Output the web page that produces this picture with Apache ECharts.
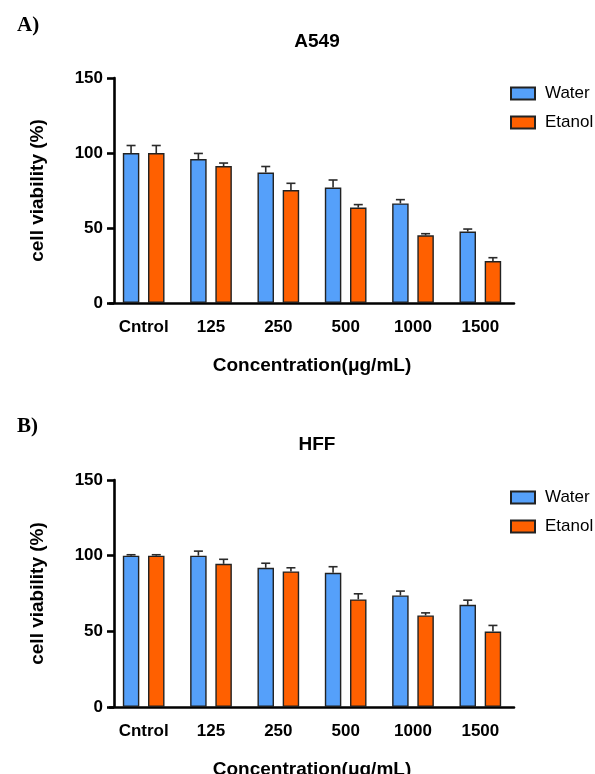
<!DOCTYPE html>
<html>
<head>
<meta charset="utf-8">
<script src="https://cdn.jsdelivr.net/npm/echarts@6/dist/echarts.min.js"></script>
<style>
html,body{margin:0;padding:0;background:#fff;}
#chart{width:595px;height:774px;}
</style>
</head>
<body>
<div id="chart"></div>
<script>
// ---- data ----
const categories = ['Cntrol', '125', '250', '500', '1000', '1500'];
const yTicks = [0, 50, 100, 150];
const seriesNames = ['Water', 'Etanol'];

// Panel A: A549
const a549Water = [100, 96, 87, 77, 66.4, 47.6];
const a549WaterSD = [5, 3.7, 4, 5, 2.5, 1.7];
const a549Etanol = [100, 91.3, 75.3, 63.6, 45.1, 28];
const a549EtanolSD = [5, 2, 4.5, 2, 1.1, 2.2];

// Panel B: HFF
const hffWater = [100, 100, 92, 88.7, 73.7, 67.5];
const hffWaterSD = [0.6, 3, 3, 4, 2.9, 3.1];
const hffEtanol = [100, 94.6, 89.6, 71.1, 60.5, 49.9];
const hffEtanolSD = [0.6, 3, 2.4, 3.7, 1.7, 4];

// ---- style ----
const FONT = '"Liberation Sans", Arial, Helvetica, sans-serif';
const SERIF = '"Liberation Serif", "Times New Roman", serif';
const BLUE = '#55A0FA';
const ORANGE = '#FF6000';
const BAR_W = 16.5;
const GAP = 8.7;
const OFFSET = (BAR_W + GAP) / 2;
const CAP = 4.5;

function errRender(sign) {
  return function (params, api) {
    const i = api.value(0), v = api.value(1), sd = api.value(2);
    const base = api.coord([i, v]);
    const top = api.coord([i, v + sd]);
    const x = base[0] + sign * OFFSET;
    const st = { stroke: '#2a2a2a', lineWidth: 1.6 };
    return {
      type: 'group',
      children: [
        { type: 'line', shape: { x1: x, y1: base[1], x2: x, y2: top[1] }, style: st },
        { type: 'line', shape: { x1: x - CAP, y1: top[1], x2: x + CAP, y2: top[1] }, style: st }
      ]
    };
  };
}

function errData(vals, sds) {
  return vals.map((v, i) => [i, v, sds[i]]);
}

const grids = [
  { left: 110, width: 404, top: 78, height: 225, outerBoundsMode: 'none', containLabel: false },
  { left: 110, width: 404, top: 480, height: 227, outerBoundsMode: 'none', containLabel: false }
];

function makeX(idx) {
  return {
    type: 'category', gridIndex: idx, data: categories,
    axisLine: { lineStyle: { color: '#000', width: 2.6 } },
    axisTick: { alignWithLabel: true, length: 7, lineStyle: { color: '#000', width: 2.6 } },
    axisLabel: { color: '#000', fontFamily: FONT, fontWeight: 'bold', fontSize: 17, margin: 16 },
    name: 'Concentration(\u03bcg/mL)', nameLocation: 'middle', nameGap: 53,
    nameTextStyle: { color: '#000', fontFamily: FONT, fontWeight: 'bold', fontSize: 19 }
  };
}
function makeY(idx) {
  return {
    type: 'value', gridIndex: idx, min: yTicks[0], max: yTicks[yTicks.length - 1], interval: 50,
    offset: -4,
    splitLine: { show: false },
    axisLine: { show: true, lineStyle: { color: '#000', width: 2.6 } },
    axisTick: { show: true, length: 7, lineStyle: { color: '#000', width: 2.6 } },
    axisLabel: { color: '#000', fontFamily: FONT, fontWeight: 'bold', fontSize: 17, margin: 11 },
    name: 'cell viability (%)', nameLocation: 'middle', nameGap: 67,
    nameTextStyle: { color: '#000', fontFamily: FONT, fontWeight: 'bold', fontSize: 19 }
  };
}

function barSeries(name, data, color, idx) {
  return {
    name: name, type: 'bar', xAxisIndex: idx, yAxisIndex: idx, data: data,
    barWidth: BAR_W, barGap: (GAP / BAR_W * 100).toFixed(1) + '%',
    itemStyle: { color: color, borderColor: '#222', borderWidth: 1.4 },
    emphasis: { disabled: true }, animation: false
  };
}
function errSeries(name, vals, sds, sign, idx) {
  return {
    name: name, type: 'custom', xAxisIndex: idx, yAxisIndex: idx,
    renderItem: errRender(sign), data: errData(vals, sds),
    encode: { x: 0, y: 1 }, z: 3, animation: false, silent: true
  };
}

const legendCommon = {
  orient: 'vertical', icon: 'rect', itemWidth: 24, itemHeight: 12, itemGap: 12,
  textStyle: { color: '#000', fontFamily: FONT, fontSize: 17, padding: [0, 0, 0, 5] },
  data: seriesNames, selectedMode: false
};

const option = {
  backgroundColor: '#fff',
  animation: false,
  title: [
    { text: 'A549', left: 312, top: 27, textAlign: 'center',
      textStyle: { fontFamily: FONT, fontWeight: 'bold', fontSize: 19, color: '#000' } },
    { text: 'HFF', left: 312, top: 430, textAlign: 'center',
      textStyle: { fontFamily: FONT, fontWeight: 'bold', fontSize: 19, color: '#000' } },
    { text: 'A)', left: 12, top: 10,
      textStyle: { fontFamily: SERIF, fontWeight: 'bold', fontSize: 21, color: '#000' } },
    { text: 'B)', left: 12, top: 411,
      textStyle: { fontFamily: SERIF, fontWeight: 'bold', fontSize: 21, color: '#000' } }
  ],
  legend: [
    Object.assign({}, legendCommon, { left: 505, top: 80 }),
    Object.assign({}, legendCommon, { left: 505, top: 484 })
  ],
  grid: grids,
  xAxis: [makeX(0), makeX(1)],
  yAxis: [makeY(0), makeY(1)],
  series: [
    barSeries('Water', a549Water, BLUE, 0),
    barSeries('Etanol', a549Etanol, ORANGE, 0),
    errSeries('Water', a549Water, a549WaterSD, -1, 0),
    errSeries('Etanol', a549Etanol, a549EtanolSD, 1, 0),
    barSeries('Water', hffWater, BLUE, 1),
    barSeries('Etanol', hffEtanol, ORANGE, 1),
    errSeries('Water', hffWater, hffWaterSD, -1, 1),
    errSeries('Etanol', hffEtanol, hffEtanolSD, 1, 1)
  ]
};

const chart = echarts.init(document.getElementById('chart'), null, { renderer: 'canvas' });
chart.setOption(option);
</script>
</body>
</html>
